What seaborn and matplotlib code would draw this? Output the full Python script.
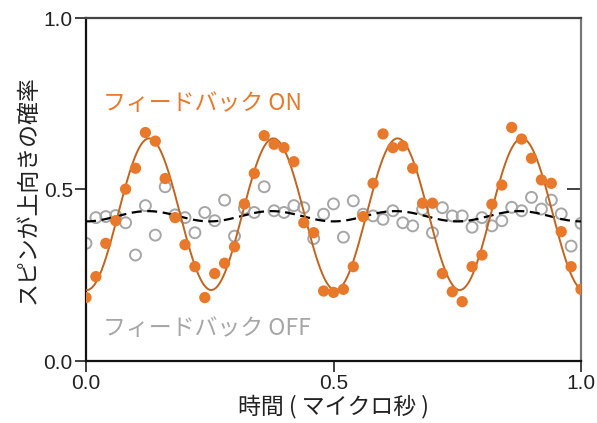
import numpy as np
import pandas as pd
import matplotlib
matplotlib.use("Agg")
import matplotlib.pyplot as plt
import seaborn as sns

# ---- data ----
time_us = [round(0.02 * i, 2) for i in range(51)]
feedback_on = [0.185, 0.246, 0.343, 0.409, 0.501, 0.562, 0.666, 0.641, 0.532, 0.418,
               0.339, 0.275, 0.185, 0.255, 0.285, 0.333, 0.458, 0.547, 0.657, 0.632,
               0.622, 0.581, 0.403, 0.374, 0.204, 0.200, 0.209, 0.275, 0.421, 0.518,
               0.662, 0.622, 0.627, 0.562, 0.460, 0.460, 0.255, 0.202, 0.173, 0.275,
               0.309, 0.457, 0.513, 0.681, 0.647, 0.591, 0.528, 0.518, 0.377, 0.275,
               0.209]
feedback_off = [0.343, 0.418, 0.421, 0.424, 0.403, 0.309, 0.453, 0.367, 0.508, 0.426,
                0.418, 0.374, 0.433, 0.409, 0.469, 0.364, 0.445, 0.433, 0.508, 0.438,
                0.433, 0.453, 0.447, 0.357, 0.428, 0.458, 0.361, 0.467, 0.428, 0.423,
                0.413, 0.438, 0.403, 0.394, 0.442, 0.374, 0.447, 0.423, 0.423, 0.390,
                0.418, 0.394, 0.409, 0.448, 0.438, 0.477, 0.443, 0.469, 0.429, 0.335,
                0.401]
# fitted sinusoid parameters: offset, amplitude, period (us), phase shift (us)
fit_on = dict(offset=0.428, amp=0.221, period=0.251, shift=0.002)
fit_off = dict(offset=0.422, amp=0.015, period=0.25, shift=0.0)

x_ticks = [0.0, 0.5, 1.0]
y_ticks = [0.0, 0.5, 1.0]
tick_labels = ["0.0", "0.5", "1.0"]
label_on = "フィードバック ON"
label_off = "フィードバック OFF"
xlabel = "時間 ( マイクロ秒 )"
ylabel = "スピンが上向きの確率"

# ---- style ----
sns.set_theme(style="ticks")
plt.rcParams["font.family"] = ["Noto Sans CJK JP", "DejaVu Sans"]

ORANGE = "#e8792b"
ORANGE_LINE = "#c0641f"
GRAY = "#a6a6a6"

fig = plt.figure(figsize=(5.97, 4.23), dpi=100)
ax = fig.add_axes([86 / 597, 1 - 361 / 423, (581 - 86) / 597, (361 - 18) / 423])

pts = pd.DataFrame({"t": time_us, "on": feedback_on, "off": feedback_off})
tt = np.linspace(0, 1, 600)
def model(p):
    return p["offset"] - p["amp"] * np.cos(2 * np.pi * (tt - p["shift"]) / p["period"])
curves = pd.DataFrame({"t": tt, "on": model(fit_on), "off": model(fit_off)})

sns.scatterplot(data=pts, x="t", y="off", ax=ax, s=62, facecolor="none",
                edgecolor=GRAY, linewidth=1.4, zorder=2, legend=False)
sns.lineplot(data=curves, x="t", y="off", ax=ax, color="black", lw=1.6,
             dashes=False, zorder=3)
ax.lines[-1].set_dashes([4.5, 2.5])
sns.lineplot(data=curves, x="t", y="on", ax=ax, color=ORANGE_LINE, lw=1.4, zorder=4)
sns.scatterplot(data=pts, x="t", y="on", ax=ax, s=66, color=ORANGE,
                edgecolor="none", zorder=5, legend=False)

ax.set_xlim(0, 1)
ax.set_ylim(0, 1)
ax.set_xticks(x_ticks)
ax.set_yticks(y_ticks)
tick_font = dict(family=["Liberation Sans", "DejaVu Sans"], size=15)
ax.set_xticklabels(tick_labels, **tick_font)
ax.set_yticklabels(tick_labels, **tick_font)
ax.tick_params(axis="both", direction="out", length=8, width=1.3, color="#333333",
               labelcolor="#222222", pad=1.5)
for side in ["left", "bottom"]:
    ax.spines[side].set_linewidth(1.6)
    ax.spines[side].set_color("#111111")
ax.spines["top"].set_visible(True)
ax.spines["top"].set_linewidth(1.6)
ax.spines["top"].set_color("#444444")
ax.spines["right"].set_visible(True)
ax.spines["right"].set_linewidth(1.6)
ax.spines["right"].set_color("#777777")

ax2 = ax.secondary_yaxis("right")
ax2.set_yticks([0.5])
ax2.tick_params(direction="in", length=10, width=1.3, color="#333333", labelright=False)
ax2.spines["right"].set_visible(False)

ax.set_xlabel(xlabel, fontsize=16.5, color="#222222", labelpad=1)
ax.set_ylabel(ylabel, fontsize=16.5, color="#222222", labelpad=3)

ax.text(0.035, 0.752, label_on, transform=ax.transAxes, fontsize=16.5,
        color=ORANGE, va="center", ha="left")
ax.text(0.035, 0.095, label_off, transform=ax.transAxes, fontsize=16.5,
        color=GRAY, va="center", ha="left")

fig.savefig("out.png", dpi=100)
